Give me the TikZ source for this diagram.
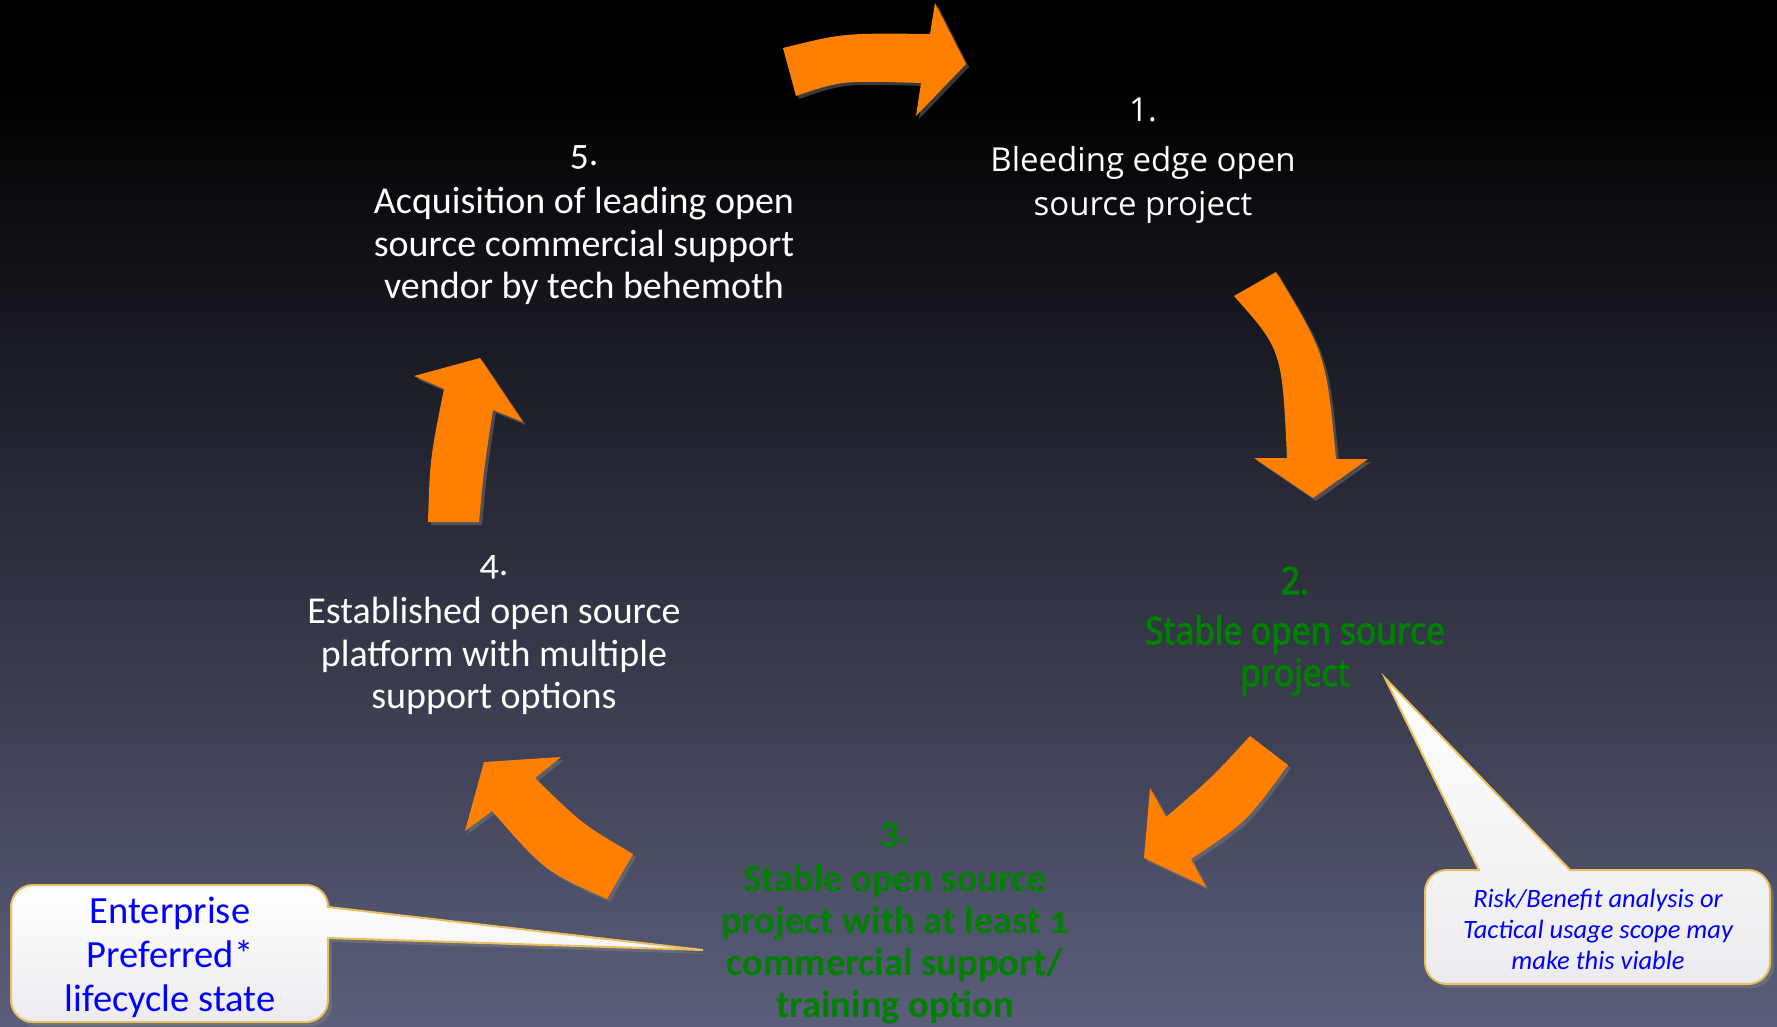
\documentclass[tikz,border=0pt]{standalone}
\usepackage{fontspec}
\setmainfont{Carlito}[Numbers=OldStyle]
\newfontfamily\openfont{Open Sans}
\newfontfamily\narrowfont{Noto Sans}[FakeStretch=0.88,FakeBold=2.5]
\usetikzlibrary{shadows}

\definecolor{arroworange}{RGB}{255,128,0}
\definecolor{stagegreen}{RGB}{0,128,0}
\definecolor{noteblue}{RGB}{0,0,255}
\definecolor{bubbleedge}{RGB}{232,192,96}
\definecolor{bubblebottom}{RGB}{236,236,240}
\definecolor{bgmid}{RGB}{44,44,70}
\definecolor{bgbottom}{RGB}{90,94,122}

\begin{document}
\begin{tikzpicture}[x=1pt, y=-1pt,
    stage/.style={align=center, inner sep=0pt, text=white,
      font=\fontsize{38}{42.5}\selectfont},
    blockarrow/.style={fill=arroworange,
      drop shadow={shadow xshift=3pt, shadow yshift=-3pt, opacity=0.45}},
    bubble/.style={draw=bubbleedge, line width=2pt, top color=white,
      bottom color=bubblebottom,
      drop shadow={shadow xshift=4pt, shadow yshift=-4pt, opacity=0.5}},
    notetext/.style={align=center, inner sep=0pt, text=noteblue}]
        \useasboundingbox (0,0) rectangle (1777,1026);
        \fill[black] (0,0) rectangle (1777,1026);
        \shade[top color=black, middle color=bgmid, bottom color=bgbottom]
        (0,80) rectangle (1777,1026);
        % the five curved arrows of the cycle
        \fill[blockarrow] (783,48) .. controls (843.5,33) .. (930,34)
        -- (935,3) -- (966,64) -- (916,116) -- (921,83)
        .. controls (841.5,80.5) .. (796,96) -- cycle;
        \fill[blockarrow] (1234,296) -- (1276,272)
        .. controls (1326,355) .. (1336,459) -- (1368,459) -- (1313,498)
        -- (1254,458) -- (1287,458) .. controls (1282,350) .. (1234,296) -- cycle;
        \fill[blockarrow] (1250,736) -- (1288,765)
        .. controls (1246.5,822) .. (1191,859) -- (1206,887) -- (1144,858)
        -- (1150,788) -- (1166,817) .. controls (1212,777.5) .. (1250,736) -- cycle;
        \fill[blockarrow] (633,854) -- (607,899)
        .. controls (544.5,871) .. (492,811) -- (465,831) -- (484,762)
        -- (561,757) -- (535,778) .. controls (582,824) .. (633,854) -- cycle;
        \fill[blockarrow] (428,522) -- (479,522)
        .. controls (484,468) .. (493,410) -- (523,422) -- (480,358)
        -- (414,376) -- (444,389) .. controls (430,458.5) .. (428,522) -- cycle;
        % callouts
        \draw[bubble] (703,950) -- (328,938) [rounded corners=22pt]
        -- (328,1022) -- (11,1022) -- (11,885) -- (328,885)
        [sharp corners] -- (328,907) -- cycle;
        \draw[bubble] (1385,678) -- (1570,870) [rounded corners=22pt]
        -- (1770,870) -- (1770,984) -- (1425,984) -- (1425,870)
        [sharp corners] -- (1479,870) -- cycle;
        % stages
        \node[stage, font=\openfont\fontsize{33}{44}\selectfont] (s1)
        at (1143,161) {1.\\[6pt]Bleeding edge open\\source project};
        \node[stage, text=stagegreen, font=\narrowfont\fontsize{38}{42}\selectfont]
        (s2) at (1295,631) {2.\\[8pt]Stable open source\\project};
        \node[stage, text=stagegreen, font=\bfseries\fontsize{38.5}{42}\selectfont]
        (s3) at (895,923) {3.\\[6pt]Stable open source\\project with at least 1\\commercial support/\\training option};
        \node[stage] (s4) at (494,635)
        {4.\\[6pt]Established open source\\platform with multiple\\support options};
        \node[stage] (s5) at (584,225)
        {5.\\[6pt]Acquisition of leading open\\source commercial support\\vendor by tech behemoth};
        \node[notetext, font=\itshape\fontsize{26.5}{31}\selectfont] (risk)
        at (1598,929) {Risk/Benefit analysis or\\Tactical usage scope may\\make this viable};
        \node[notetext, font=\fontsize{38.5}{44}\selectfont] (pref)
        at (170,957) {Enterprise\\Preferred*\\lifecycle state};
\end{tikzpicture}
\end{document}
